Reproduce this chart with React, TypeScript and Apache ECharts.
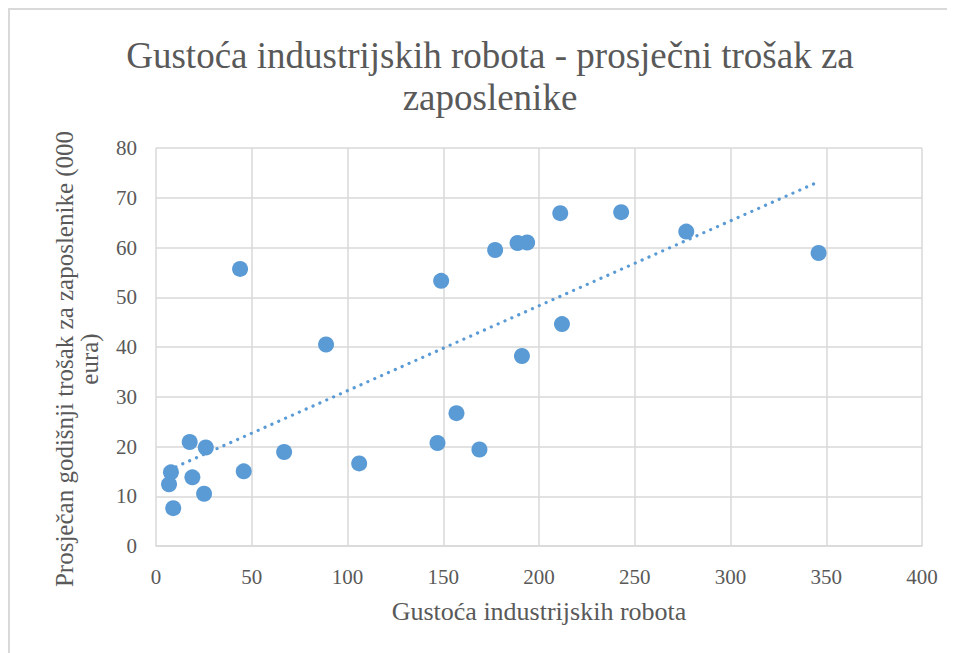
import React, { useEffect, useRef } from "react";
import * as echarts from "echarts";

const titleText = "Gustoća industrijskih robota - prosječni trošak za\nzaposlenike";
const xAxisTitle = "Gustoća industrijskih robota";
const yAxisTitle = "Prosječan godišnji trošak za zaposlenike (000\neura)";

const xTicks = [0, 400, 50];
const yTicks = [0, 80, 10];

const robotDensity = [
  6.8, 7.8, 9.0, 17.6, 19.0, 25.1, 26.0, 43.9, 45.8, 66.9, 88.8, 106.1, 147.0,
  148.9, 156.9, 168.9, 177.1, 188.8, 193.8, 191.1, 211.1, 212.0, 242.9, 276.9, 346.0,
];
const employeeCost = [
  12.4, 14.8, 7.6, 20.9, 13.8, 10.5, 19.8, 55.7, 15.0, 18.9, 40.5, 16.6, 20.7,
  53.3, 26.7, 19.4, 59.5, 60.9, 61.0, 38.2, 66.9, 44.6, 67.1, 63.2, 58.9,
];

const FONT = "Liberation Serif";
const TEXT_COLOR = "#595959";
const GRID_COLOR = "#d9d9d9";
const BLUE = "#5b9bd5";

function linearFit(xs: number[], ys: number[]) {
  const n = xs.length;
  const mx = xs.reduce((a, b) => a + b, 0) / n;
  const my = ys.reduce((a, b) => a + b, 0) / n;
  let sxy = 0;
  let sxx = 0;
  for (let i = 0; i < n; i++) {
    sxy += (xs[i] - mx) * (ys[i] - my);
    sxx += (xs[i] - mx) * (xs[i] - mx);
  }
  const slope = sxy / sxx;
  return { slope, intercept: my - slope * mx };
}

export default function App() {
  const ref = useRef<HTMLDivElement>(null);

  useEffect(() => {
    if (!ref.current) return;
    const chart = echarts.init(ref.current, undefined, { renderer: "svg" });
    const points = robotDensity.map((x, i) => [x, employeeCost[i]]);
    const { slope, intercept } = linearFit(robotDensity, employeeCost);
    const xMin = Math.min(...robotDensity);
    const xMax = Math.max(...robotDensity);
    const trend = [
      [xMin, intercept + slope * xMin],
      [xMax, intercept + slope * xMax],
    ];

    chart.setOption({
      animation: false,
      backgroundColor: "#ffffff",
      textStyle: { fontFamily: FONT },
      grid: { left: 146, top: 138, width: 766, height: 398, containLabel: false },
      xAxis: {
        type: "value",
        min: xTicks[0],
        max: xTicks[1],
        interval: xTicks[2],
        name: xAxisTitle,
        nameLocation: "middle",
        nameGap: 52,
        nameTextStyle: { fontFamily: FONT, fontSize: 26, color: TEXT_COLOR },
        axisLine: { show: true, lineStyle: { color: GRID_COLOR, width: 1.5 } },
        axisTick: { show: false },
        axisLabel: { fontFamily: FONT, fontSize: 21, color: TEXT_COLOR, margin: 20 },
        splitLine: { show: true, lineStyle: { color: GRID_COLOR, width: 1.5 } },
      },
      yAxis: {
        type: "value",
        min: yTicks[0],
        max: yTicks[1],
        interval: yTicks[2],
        axisLine: { show: false },
        axisTick: { show: false },
        axisLabel: { fontFamily: FONT, fontSize: 21, color: TEXT_COLOR, margin: 19 },
        splitLine: { show: true, lineStyle: { color: GRID_COLOR, width: 1.5 } },
      },
      graphic: [
        {
          type: "text",
          x: 480,
          y: 66,
          style: {
            text: titleText,
            align: "center",
            verticalAlign: "middle",
            fontFamily: FONT,
            fontSize: 37,
            lineHeight: 42,
            fill: TEXT_COLOR,
          },
        },
        {
          type: "text",
          x: 67,
          y: 349,
          rotation: Math.PI / 2,
          style: {
            text: yAxisTitle,
            align: "center",
            verticalAlign: "middle",
            fontFamily: FONT,
            fontSize: 25,
            lineHeight: 25,
            fill: TEXT_COLOR,
          },
        },
      ],
      series: [
        {
          type: "scatter",
          data: points,
          symbol: "circle",
          symbolSize: 16,
          itemStyle: { color: BLUE, opacity: 1 },
          z: 2,
        },
        {
          type: "line",
          data: trend,
          showSymbol: false,
          symbol: "none",
          silent: true,
          lineStyle: { color: BLUE, width: 3.2, type: [0.1, 7.4], cap: "round" },
          z: 3,
        },
      ],
    });
    return () => chart.dispose();
  }, []);

  return (
    <div
      style={{
        width: 945,
        height: 643,
        borderTop: `2px solid ${GRID_COLOR}`,
        borderLeft: `2px solid ${GRID_COLOR}`,
      }}
    >
      <div ref={ref} style={{ width: 945, height: 643 }} />
    </div>
  );
}
